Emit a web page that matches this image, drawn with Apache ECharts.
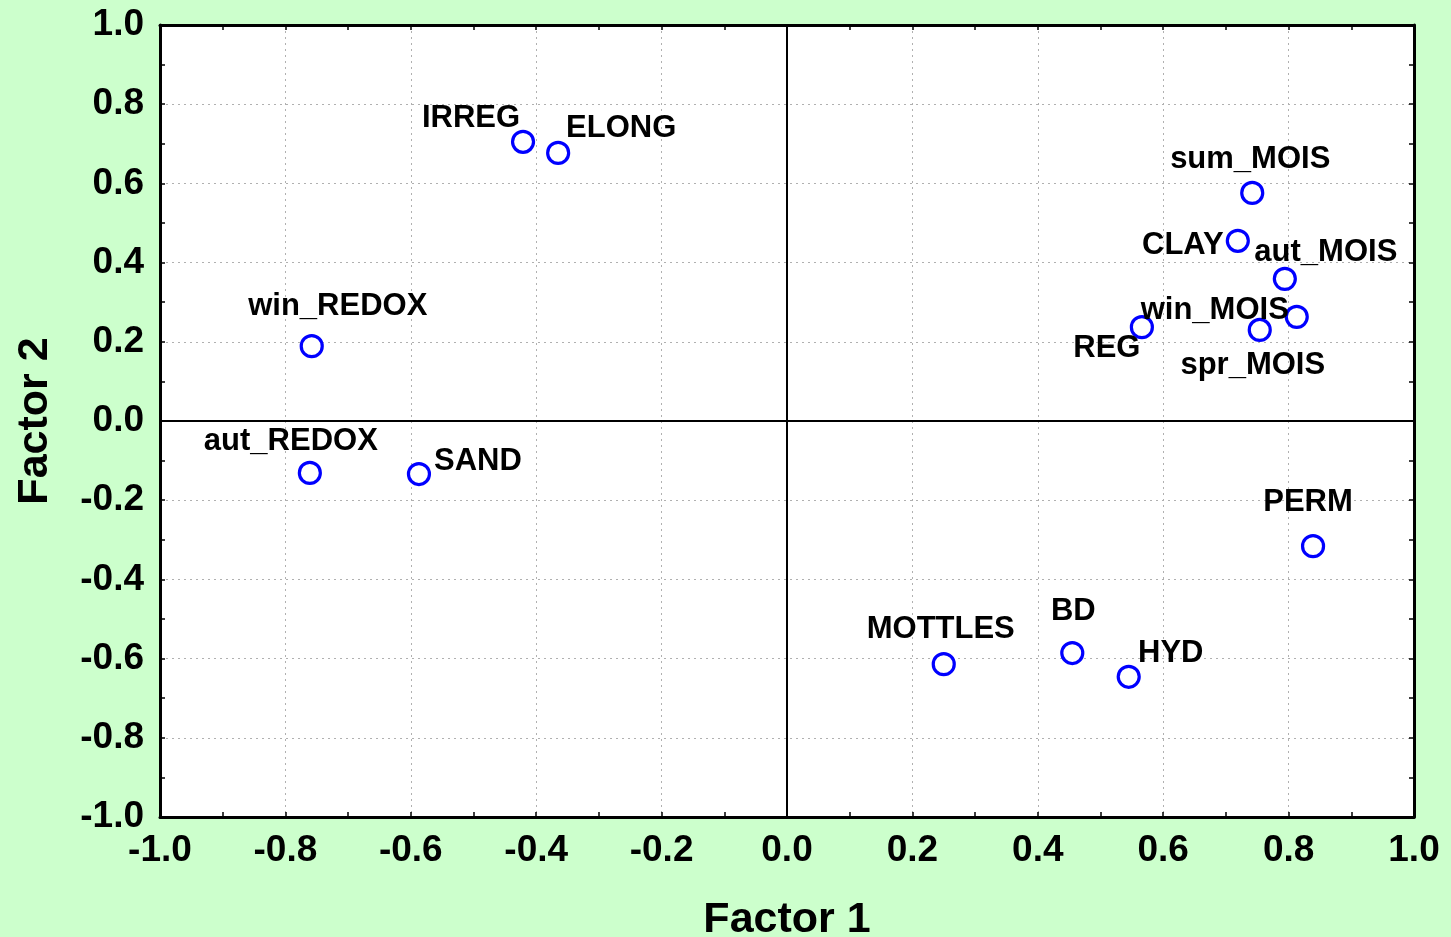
<!DOCTYPE html>
<html lang="en">
<head>
    <meta charset="UTF-8">
    <title>Factor 1 vs Factor 2</title>
    <style>
        html, body { margin: 0; padding: 0; background: #ccffcc; }
        #main { width: 1451px; height: 937px; }
    </style>
    <script src="https://cdn.jsdelivr.net/npm/echarts@6/dist/echarts.min.js"></script>
</head>
<body>
<div id="main"></div>
<script type="text/javascript">
    // variable names and loadings
    var names = ['IRREG', 'ELONG', 'sum_MOIS', 'CLAY', 'aut_MOIS', 'win_MOIS', 'spr_MOIS', 'REG',
                 'win_REDOX', 'aut_REDOX', 'SAND', 'PERM', 'MOTTLES', 'BD', 'HYD'];
    var factor1 = [-0.421, -0.365, 0.742, 0.719, 0.794, 0.813, 0.754, 0.566,
                   -0.758, -0.761, -0.587, 0.839, 0.250, 0.455, 0.545];
    var factor2 = [0.705, 0.677, 0.576, 0.455, 0.359, 0.263, 0.230, 0.237,
                   0.189, -0.131, -0.134, -0.316, -0.614, -0.586, -0.646];

    // where each label sits relative to its circle (px)
    var labelOffsets = [[-52, -23], [63, -24], [-2, -33], [-55, 5], [41, -26], [-82, -6], [-7, 36], [-35, 21],
                        [26, -40], [-19, -31], [59, -13], [-5, -44], [-3, -35], [1, -42], [42, -23]];

    var font = '"Liberation Sans", Arial, sans-serif';

    var points = names.map(function (n, i) {
        return {
            name: n,
            value: [factor1[i], factor2[i]],
            label: { offset: labelOffsets[i] }
        };
    });

    var myChart = echarts.init(document.getElementById('main'));

    var tickLabel = { fontFamily: font, fontWeight: 'bold', fontSize: 37, color: '#000',
                      formatter: function (v) { return v.toFixed(1); } };
    var tick = { show: true, inside: true, length: 5, lineStyle: { color: '#000', width: 1.5 } };
    var minor = { show: true, splitNumber: 2, length: 5, lineStyle: { color: '#000', width: 1.5 } };
    var frame = { show: true, onZero: false, lineStyle: { color: '#000', width: 3 } };

    var option = {
        backgroundColor: '#ccffcc',
        animation: false,
        grid: { left: 160, right: 37, top: 25, bottom: 120, outerBoundsMode: 'none', containLabel: false,
                show: true, backgroundColor: '#fff', borderWidth: 0 },
        xAxis: [{
            type: 'value', min: -1, max: 1, interval: 0.2, position: 'bottom',
            axisLine: frame, axisTick: tick, minorTick: minor,
            axisLabel: Object.assign({ margin: 15 }, tickLabel),
            splitLine: { show: true, lineStyle: { color: '#b0b0b0', type: [2, 4], width: 1 } },
            name: 'Factor 1', nameLocation: 'middle', nameGap: 82,
            nameTextStyle: { fontFamily: font, fontWeight: 'bold', fontSize: 43, color: '#000' }
        }, {
            type: 'value', min: -1, max: 1, interval: 0.2, position: 'top',
            axisLine: frame, axisTick: tick, minorTick: minor,
            axisLabel: { show: false }, splitLine: { show: false }
        }],
        yAxis: [{
            type: 'value', min: -1, max: 1, interval: 0.2, position: 'left',
            axisLine: frame, axisTick: tick, minorTick: minor,
            axisLabel: Object.assign({ margin: 16 }, tickLabel),
            splitLine: { show: true, lineStyle: { color: '#b0b0b0', type: [2, 4], width: 1 } },
            name: 'Factor 2', nameLocation: 'middle', nameGap: 103, nameRotate: 90,
            nameTextStyle: { fontFamily: font, fontWeight: 'bold', fontSize: 43, color: '#000' }
        }, {
            type: 'value', min: -1, max: 1, interval: 0.2, position: 'right',
            axisLine: frame, axisTick: tick, minorTick: minor,
            axisLabel: { show: false }, splitLine: { show: false }
        }],
        series: [{
            type: 'scatter',
            xAxisIndex: 0, yAxisIndex: 0,
            symbol: 'circle',
            symbolSize: 21,
            itemStyle: { color: '#fff', borderColor: '#0000ff', borderWidth: 3.2, opacity: 1 },
            label: {
                show: true, position: 'inside',
                formatter: '{b}',
                fontFamily: font, fontWeight: 'bold', fontSize: 31, color: '#000'
            },
            markLine: {
                silent: true, symbol: 'none', label: { show: false },
                lineStyle: { color: '#000', type: 'solid', width: 2 },
                data: [{ xAxis: 0 }, { yAxis: 0 }]
            },
            data: points,
            z: 3
        }]
    };

    myChart.setOption(option);
</script>
</body>
</html>
